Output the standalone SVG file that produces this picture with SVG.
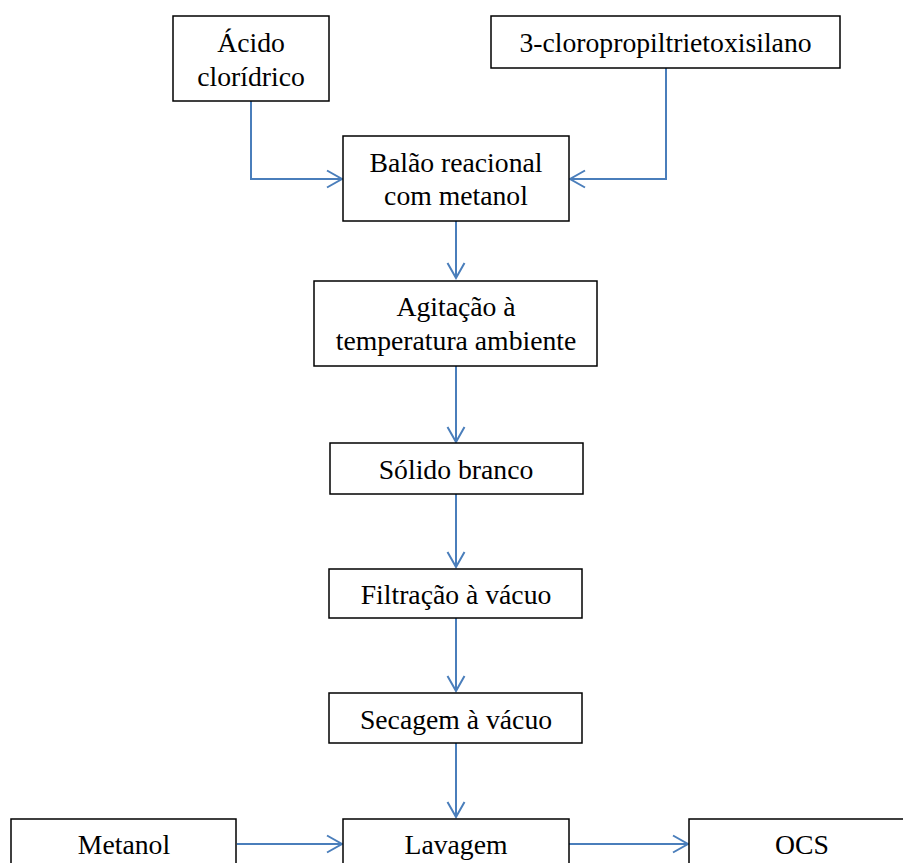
<svg xmlns="http://www.w3.org/2000/svg" width="903" height="863" viewBox="0 0 903 863">
<style>
.box{fill:#fff;stroke:#000;stroke-width:1.5}
.t{font-family:"Liberation Serif","Times New Roman",serif;font-size:27.7px;fill:#000;text-anchor:middle}
.c{fill:none;stroke:#4A7EBB;stroke-width:2}
</style>
<defs>
<marker id="ah" markerUnits="userSpaceOnUse" viewBox="-16 -10 18 20" refX="0" refY="0" markerWidth="18" markerHeight="20" orient="auto">
<path d="M-15,-8.5 L0,0 L-15,8.5" fill="none" stroke="#4A7EBB" stroke-width="2"/>
</marker>
</defs>
<rect width="903" height="863" fill="#fff"/>
<g id="connectors">
<path class="c" d="M251,101 V179 H342" marker-end="url(#ah)"/>
<path class="c" d="M666,68 V179 H570" marker-end="url(#ah)"/>
<path class="c" d="M456,221 V278" marker-end="url(#ah)"/>
<path class="c" d="M456,366 V442" marker-end="url(#ah)"/>
<path class="c" d="M456,494 V567" marker-end="url(#ah)"/>
<path class="c" d="M456,618 V691" marker-end="url(#ah)"/>
<path class="c" d="M456,743 V817" marker-end="url(#ah)"/>
<path class="c" d="M237,844 H342" marker-end="url(#ah)"/>
<path class="c" d="M569,844 H688" marker-end="url(#ah)"/>
</g>
<g id="acido">
<rect class="box" x="173" y="16" width="156" height="85"/>
<text class="t" x="251" y="52">Ácido</text>
<text class="t" x="251" y="86">clorídrico</text>
</g>
<g id="cloro">
<rect class="box" x="491" y="16" width="349" height="52"/>
<text class="t" x="665.5" y="52">3-cloropropiltrietoxisilano</text>
</g>
<g id="balao">
<rect class="box" x="343" y="136" width="226" height="85"/>
<text class="t" x="456" y="172">Balão reacional</text>
<text class="t" x="456" y="205">com metanol</text>
</g>
<g id="agitacao">
<rect class="box" x="314" y="281" width="283" height="85"/>
<text class="t" x="456" y="316">Agitação à</text>
<text class="t" x="456" y="350">temperatura ambiente</text>
</g>
<g id="solido">
<rect class="box" x="330" y="443" width="253" height="51"/>
<text class="t" x="456" y="479">Sólido branco</text>
</g>
<g id="filtracao">
<rect class="box" x="329" y="569" width="253" height="49"/>
<text class="t" x="456" y="604">Filtração à vácuo</text>
</g>
<g id="secagem">
<rect class="box" x="329" y="693" width="253" height="50"/>
<text class="t" x="456" y="729">Secagem à vácuo</text>
</g>
<g id="metanol">
<rect class="box" x="11" y="819" width="225" height="60"/>
<text class="t" x="124" y="854">Metanol</text>
</g>
<g id="lavagem">
<rect class="box" x="343" y="819" width="226" height="60"/>
<text class="t" x="456" y="854">Lavagem</text>
</g>
<g id="ocs">
<rect class="box" x="689" y="819" width="240" height="60"/>
<text class="t" x="802" y="854">OCS</text>
</g>
</svg>
